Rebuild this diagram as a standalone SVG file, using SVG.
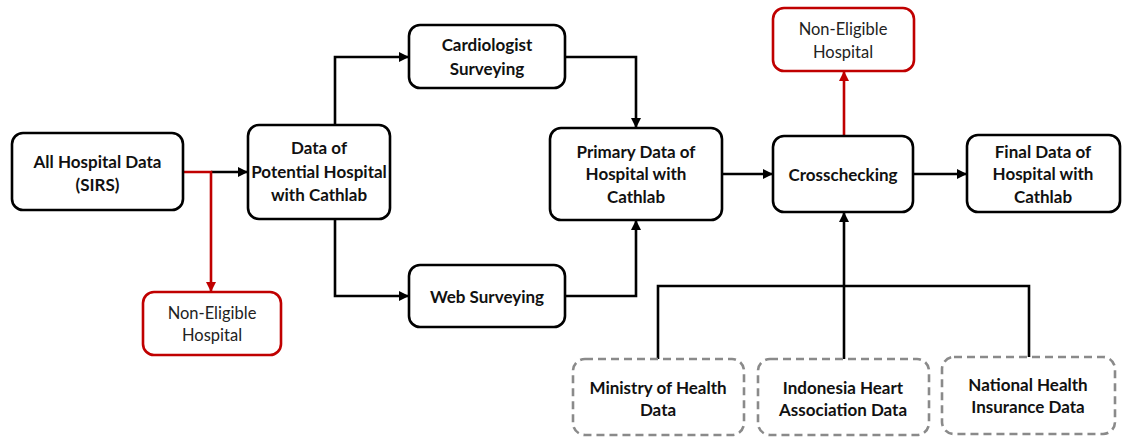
<svg xmlns="http://www.w3.org/2000/svg" width="1128" height="437" viewBox="0 0 1128 437">
<defs>
<style>
.box{fill:#fff;stroke:#000;stroke-width:2.6}
.red{fill:#fff;stroke:#c00000;stroke-width:2.6}
.dash{fill:#fff;stroke:#8a8a8a;stroke-width:2.6;stroke-dasharray:8 5}
.t{font-family:Lato,"Open Sans",sans-serif;font-weight:700;font-size:17px;fill:#111;text-anchor:middle}
.r{font-family:Lato,"Open Sans",sans-serif;font-weight:400;font-size:16.5px;fill:#222;text-anchor:middle}
.k{fill:none;stroke:#000;stroke-width:2.6}
.kr{fill:none;stroke:#c00000;stroke-width:2.6}
</style>
<marker id="ab" markerWidth="10" markerHeight="10" refX="9" refY="5" orient="auto" markerUnits="userSpaceOnUse"><path d="M0,0 L10,5 L0,10 Z" fill="#000"/></marker>
<marker id="ar" markerWidth="10" markerHeight="10" refX="9" refY="5" orient="auto" markerUnits="userSpaceOnUse"><path d="M0,0 L10,5 L0,10 Z" fill="#c00000"/></marker>
</defs>
<rect width="1128" height="437" fill="#fff"/>
<g id="connectors">
<path class="k" d="M211,172 H247" marker-end="url(#ab)"/>
<path class="kr" d="M183,172 H211 V291" marker-end="url(#ar)"/>
<path class="k" d="M335,125 V57 H408" marker-end="url(#ab)"/>
<path class="k" d="M335,219 V296 H408" marker-end="url(#ab)"/>
<path class="k" d="M565,57 H636 V127" marker-end="url(#ab)"/>
<path class="k" d="M565,296 H636 V221" marker-end="url(#ab)"/>
<path class="k" d="M722,174 H772" marker-end="url(#ab)"/>
<path class="k" d="M913,174 H966" marker-end="url(#ab)"/>
<path class="kr" d="M844,136 V72" marker-end="url(#ar)"/>
<path class="k" d="M658,359 V286 H1029 V357"/>
<path class="k" d="M844,359 V213" marker-end="url(#ab)"/>
</g>
<g id="allHospital"><rect class="box" x="12" y="133" width="171" height="77" rx="11"/><text class="t" x="97.5" y="168">All Hospital Data</text><text class="t" x="97.5" y="191">(SIRS)</text></g>
<g id="potential"><rect class="box" x="248" y="125" width="142" height="94" rx="11"/><text class="t" x="319" y="154">Data of</text><text class="t" x="319" y="178">Potential Hospital</text><text class="t" x="319" y="201">with Cathlab</text></g>
<g id="cardio"><rect class="box" x="409" y="25" width="156" height="63" rx="11"/><text class="t" x="487" y="51">Cardiologist</text><text class="t" x="487" y="75">Surveying</text></g>
<g id="web"><rect class="box" x="409" y="265" width="156" height="62" rx="11"/><text class="t" x="487" y="303">Web Surveying</text></g>
<g id="primary"><rect class="box" x="550" y="128" width="172" height="92" rx="11"/><text class="t" x="636" y="158">Primary Data of</text><text class="t" x="636" y="180">Hospital with</text><text class="t" x="636" y="203">Cathlab</text></g>
<g id="nonEligible1"><rect class="red" x="143" y="292" width="138" height="63" rx="11"/><text class="r" x="212" y="319">Non-Eligible</text><text class="r" x="212" y="341">Hospital</text></g>
<g id="crosscheck"><rect class="box" x="773" y="136" width="140" height="76" rx="11"/><text class="t" x="843" y="181">Crosschecking</text></g>
<g id="nonEligible2"><rect class="red" x="773" y="8" width="141" height="63" rx="11"/><text class="r" x="843" y="35">Non-Eligible</text><text class="r" x="843" y="58">Hospital</text></g>
<g id="final"><rect class="box" x="967" y="135" width="153" height="77" rx="11"/><text class="t" x="1043" y="158">Final Data of</text><text class="t" x="1043" y="180">Hospital with</text><text class="t" x="1043" y="203">Cathlab</text></g>
<g id="ministry"><rect class="dash" x="573" y="359" width="171" height="76" rx="12"/><text class="t" x="658" y="394">Ministry of Health</text><text class="t" x="658" y="416">Data</text></g>
<g id="indonesia"><rect class="dash" x="758" y="359" width="171" height="76" rx="12"/><text class="t" x="843" y="394">Indonesia Heart</text><text class="t" x="843" y="416">Association Data</text></g>
<g id="national"><rect class="dash" x="942" y="357" width="173" height="77" rx="12"/><text class="t" x="1028" y="391">National Health</text><text class="t" x="1028" y="413">Insurance Data</text></g>
</svg>
